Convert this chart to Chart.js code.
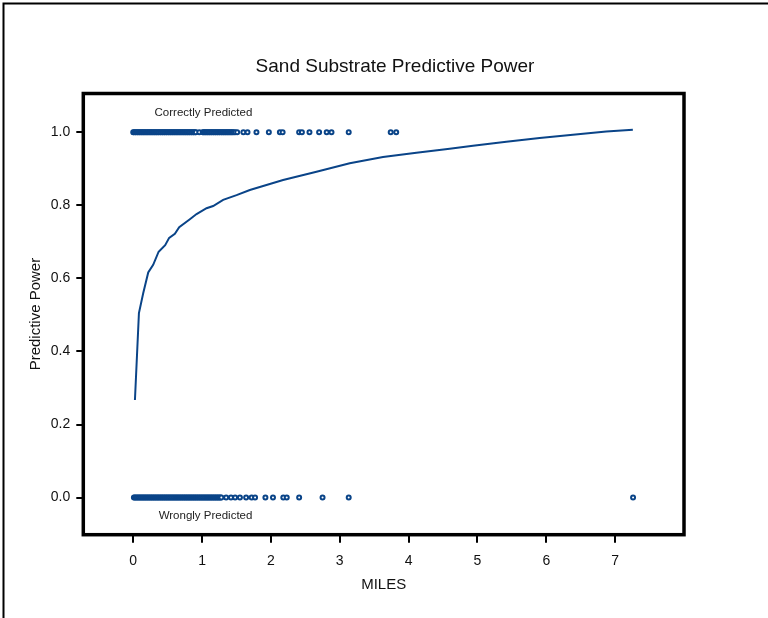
<!DOCTYPE html>
<html>
<head>
<meta charset="utf-8">
<title>Sand Substrate Predictive Power</title>
<script src="https://cdn.jsdelivr.net/npm/chart.js@4.4.0/dist/chart.umd.min.js"></script>
<style>
  html, body { margin: 0; padding: 0; background: #fff; }
  #wrap { width: 768px; height: 618px; }
</style>
</head>
<body>
<div id="wrap"><canvas id="powerChart" width="768" height="618"></canvas></div>
<script>
// distances (miles) of sites that were predicted correctly (plotted at 1) / wrongly (plotted at 0)
const correctMiles = [0.00, 0.01, 0.03, 0.04, 0.06, 0.07, 0.09, 0.10, 0.12, 0.13, 0.15, 0.16, 0.18, 0.19,
  0.21, 0.22, 0.24, 0.25, 0.27, 0.28, 0.30, 0.31, 0.33, 0.34, 0.36, 0.37, 0.39, 0.40, 0.42, 0.43, 0.45,
  0.46, 0.48, 0.49, 0.51, 0.52, 0.54, 0.55, 0.57, 0.58, 0.60, 0.61, 0.63, 0.64, 0.66, 0.67, 0.69, 0.70,
  0.72, 0.73, 0.75, 0.76, 0.78, 0.79, 0.81, 0.82, 0.84, 0.85, 0.87, 0.88, 0.90, 0.91, 0.96, 1.01, 1.02,
  1.04, 1.05, 1.07, 1.08, 1.10, 1.11, 1.13, 1.14, 1.16, 1.17, 1.19, 1.20, 1.22, 1.23, 1.25, 1.26, 1.28,
  1.29, 1.31, 1.32, 1.34, 1.35, 1.37, 1.38, 1.40, 1.41, 1.43, 1.44, 1.46, 1.48, 1.51, 1.60, 1.66, 1.79,
  1.97, 2.13, 2.17, 2.41, 2.45, 2.56, 2.70, 2.81, 2.88, 3.13, 3.74, 3.82];
const wrongMiles = [0.01, 0.02, 0.04, 0.05, 0.07, 0.08, 0.10, 0.11, 0.13, 0.14, 0.16, 0.17, 0.19, 0.20,
  0.22, 0.23, 0.25, 0.26, 0.28, 0.29, 0.31, 0.32, 0.34, 0.35, 0.37, 0.38, 0.40, 0.41, 0.43, 0.44, 0.46,
  0.47, 0.49, 0.50, 0.52, 0.53, 0.55, 0.56, 0.58, 0.59, 0.61, 0.62, 0.64, 0.65, 0.67, 0.68, 0.70, 0.71,
  0.73, 0.74, 0.76, 0.77, 0.79, 0.80, 0.82, 0.83, 0.85, 0.86, 0.88, 0.89, 0.91, 0.92, 0.94, 0.95, 0.97,
  0.98, 1.00, 1.01, 1.03, 1.04, 1.06, 1.07, 1.09, 1.10, 1.12, 1.13, 1.15, 1.16, 1.18, 1.19, 1.21, 1.22,
  1.24, 1.25, 1.27, 1.28, 1.35, 1.42, 1.48, 1.55, 1.64, 1.72, 1.77, 1.92, 2.03, 2.18, 2.23, 2.41, 2.75,
  3.13, 7.26];

// fitted predictive power curve
const curveMiles = [0.025, 0.083, 0.145, 0.218, 0.290, 0.369, 0.464, 0.522, 0.605, 0.668, 0.823, 0.920,
  1.065, 1.161, 1.306, 1.501, 1.694, 2.177, 2.662, 3.145, 3.628, 4.113, 4.597, 4.935, 5.419, 5.903,
  6.386, 6.871, 7.257];
const curvePower = [0.267, 0.505, 0.559, 0.616, 0.637, 0.673, 0.691, 0.711, 0.722, 0.740, 0.762, 0.776,
  0.792, 0.798, 0.815, 0.828, 0.842, 0.869, 0.892, 0.915, 0.932, 0.944, 0.955, 0.963, 0.974, 0.984,
  0.993, 1.002, 1.007];

const xTicks = [0, 1, 2, 3, 4, 5, 6, 7];
const yTicks = [0.0, 0.2, 0.4, 0.6, 0.8, 1.0];

const blue = '#0a4488';
const fontFamily = "'Liberation Sans', Arial, sans-serif";

const ptStyle = {
  type: 'scatter',
  showLine: false,
  pointStyle: 'circle',
  pointRadius: 2,
  pointBorderWidth: 2,
  pointBorderColor: blue,
  pointBackgroundColor: '#fff'
};

// frame, page border, title and the two notes
const decorations = {
  id: 'decorations',
  beforeDraw(chart) {
    const ctx = chart.ctx;
    ctx.save();
    ctx.fillStyle = '#fff';
    ctx.fillRect(0, 0, chart.width, chart.height);
    ctx.strokeStyle = '#000';
    ctx.lineWidth = 2;
    ctx.beginPath();
    ctx.moveTo(3.5, chart.height);
    ctx.lineTo(3.5, 3.5);
    ctx.lineTo(chart.width, 3.5);
    ctx.stroke();
    ctx.restore();
  },
  afterDraw(chart) {
    const ctx = chart.ctx;
    const a = chart.chartArea;
    const x = chart.scales.x, y = chart.scales.y;
    ctx.save();
    ctx.strokeStyle = '#000';
    ctx.lineWidth = 3.5;
    ctx.strokeRect(a.left, a.top, a.right - a.left, a.bottom - a.top);

    ctx.fillStyle = '#111';
    ctx.textAlign = 'center';
    ctx.textBaseline = 'middle';
    ctx.font = `19px ${fontFamily}`;
    ctx.fillText('Sand Substrate Predictive Power', 395, 67);

    ctx.fillStyle = '#222';
    ctx.font = `11.5px ${fontFamily}`;
    ctx.fillText('Correctly Predicted', x.getPixelForValue(1.02), y.getPixelForValue(1.054));
    ctx.fillText('Wrongly Predicted', x.getPixelForValue(1.05), y.getPixelForValue(-0.050));
    ctx.restore();
  }
};

new Chart(document.getElementById('powerChart'), {
  data: {
    datasets: [
      Object.assign({ label: 'Correctly Predicted', data: correctMiles.map(m => ({ x: m, y: 1 })) }, ptStyle),
      Object.assign({ label: 'Wrongly Predicted', data: wrongMiles.map(m => ({ x: m, y: 0 })) }, ptStyle),
      {
        type: 'line',
        label: 'Predictive Power',
        data: curveMiles.map((m, i) => ({ x: m, y: curvePower[i] })),
        borderColor: blue,
        borderWidth: 2,
        pointRadius: 0,
        tension: 0,
        fill: false
      }
    ]
  },
  options: {
    responsive: false,
    animation: false,
    devicePixelRatio: 1,
    layout: { padding: { top: 93.5, right: 84, left: 0, bottom: 0 } },
    plugins: {
      legend: { display: false },
      tooltip: { enabled: false }
    },
    scales: {
      x: {
        type: 'linear',
        min: -0.725,
        max: 8.0,
        afterFit: s => { s.height = 83.3; },
        afterBuildTicks: s => { s.ticks = xTicks.map(v => ({ value: v })); },
        border: { display: false },
        grid: { display: true, drawOnChartArea: false, drawTicks: true, tickLength: 8, color: '#000', lineWidth: 2 },
        ticks: { color: '#111', padding: 10, font: { size: 14, family: fontFamily }, callback: v => String(v) },
        title: { display: true, text: 'MILES', color: '#111', font: { size: 15, family: fontFamily }, padding: { top: 0, bottom: 24 } }
      },
      y: {
        type: 'linear',
        min: -0.1016,
        max: 1.106,
        afterFit: s => { s.width = 83.3; },
        afterBuildTicks: s => { s.ticks = yTicks.map(v => ({ value: v })); },
        border: { display: false },
        grid: { display: true, drawOnChartArea: false, drawTicks: true, tickLength: 7, color: '#000', lineWidth: 2 },
        ticks: { color: '#111', padding: 6, font: { size: 14, family: fontFamily }, callback: v => Number(v).toFixed(1) },
        title: { display: true, text: 'Predictive Power', color: '#111', font: { size: 15, family: fontFamily }, padding: { top: 27, bottom: 0 } }
      }
    }
  },
  plugins: [decorations]
});
</script>
</body>
</html>
